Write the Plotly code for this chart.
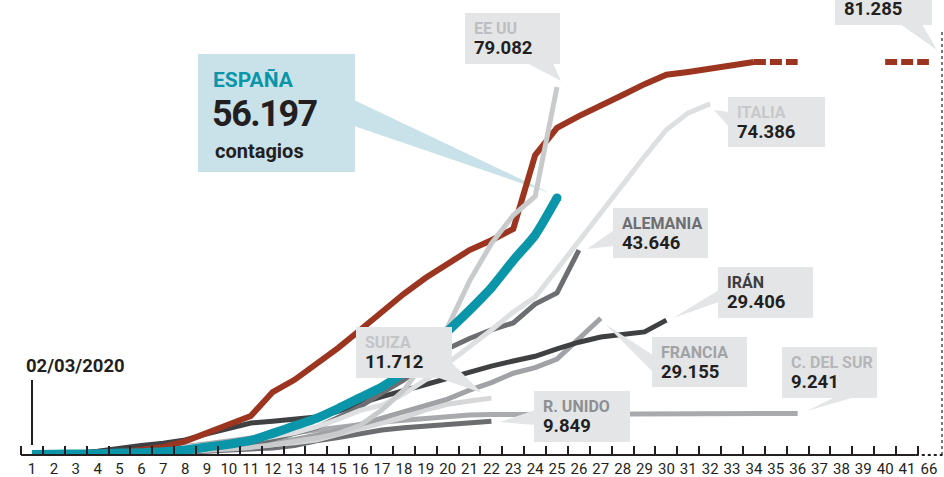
import plotly.graph_objects as go

# ---------------- data (thousands of cases) ----------------
DAY_LABELS = ["1", "2", "3", "4", "5", "6", "7", "8", "9", "10", "11", "12", "13", "14",
              "15", "16", "17", "18", "19", "20", "21", "22", "23", "24", "25", "26", "27",
              "28", "29", "30", "31", "32", "33", "34", "35", "36", "37", "38", "39", "40",
              "41", "66"]

china = [0.1, 0.2, 0.3, 0.4, 0.6, 1.1, 1.7, 2.9, 4.6, 6.5, 8.3, 13.4, 16.0, 19.4, 22.8,
         26.6, 30.6, 34.3, 37.7, 40.6, 43.6, 45.7, 48.1, 63.8, 69.6, 72.1, 74.5, 76.6,
         78.9, 80.9, 81.5, 82.3, 83.1, 83.6]
china_tail_a_days = ["34", "35", "36"]
china_tail_a = [83.6, 83.6, 83.6]
china_tail_b_days = ["40", "41", "66"]
china_tail_b = [83.6, 83.6, 83.6]

spain = [0.12, 0.17, 0.22, 0.26, 0.40, 0.5, 0.67, 1.07, 1.7, 2.3, 3.1, 4.6, 6.2, 7.8,
         9.9, 12.2, 14.5, 17.6, 21.8, 26.3, 30.8, 35.6, 41.4, 46.8, 54.7]
usa = [0.1, 0.12, 0.16, 0.22, 0.32, 0.44, 0.54, 0.7, 1.0, 1.3, 1.6, 2.2, 2.8, 3.6, 4.6,
       6.3, 9.6, 13.8, 20.2, 27.2, 37.0, 45.0, 51.0, 55.0, 78.3]
italy = [0.16, 0.23, 0.32, 0.45, 0.66, 0.89, 1.13, 1.7, 2.0, 2.5, 3.1, 3.9, 4.7, 6.0,
         7.6, 9.5, 10.6, 13.0, 16.0, 19.5, 23.0, 26.6, 30.4, 33.6, 39.5, 45.5, 51.7,
         57.4, 63.5, 69.2, 72.8, 74.7]
germany = [0.16, 0.2, 0.26, 0.48, 0.67, 0.8, 1.0, 1.2, 1.5, 1.9, 2.1, 3.4, 4.6, 5.8,
           8.0, 10.3, 13.2, 16.0, 19.5, 22.6, 24.8, 26.6, 28.1, 32.1, 34.5, 43.6]
iran = [0.14, 0.25, 0.4, 0.8, 1.5, 2.0, 2.5, 3.2, 4.5, 5.7, 6.8, 7.2, 7.6, 8.1, 9.3,
        11.0, 12.4, 13.6, 15.0, 16.3, 17.7, 18.9, 20.0, 21.0, 22.6, 24.0, 25.1, 25.6,
        26.2, 28.7]
france = [0.13, 0.19, 0.21, 0.28, 0.4, 0.6, 0.7, 0.95, 1.2, 1.6, 2.1, 2.6, 3.3, 4.2,
          5.2, 6.5, 7.8, 9.2, 10.6, 11.9, 13.8, 15.4, 17.4, 18.6, 20.4, 24.7, 29.1]
korea = [0.1, 0.2, 0.4, 0.6, 0.8, 1.0, 1.3, 1.8, 2.3, 3.0, 3.6, 4.2, 4.8, 5.3, 5.9,
         6.6, 7.0, 7.4, 7.8, 8.2, 8.5, 8.6, 8.6, 8.65, 8.65, 8.7, 8.7, 8.7, 8.75, 8.75,
         8.75, 8.8, 8.8, 8.8, 8.85, 8.85]
uk = [0.05, 0.08, 0.1, 0.15, 0.2, 0.3, 0.45, 0.6, 0.8, 1.0, 1.3, 1.5, 2.0, 3.0, 3.7,
      4.6, 5.3, 5.8, 6.2, 6.6, 7.0, 7.2]
swiss = [0.09, 0.2, 0.27, 0.34, 0.37, 0.5, 0.65, 0.86, 1.1, 1.4, 1.9, 2.2, 2.6, 3.2,
         4.4, 5.6, 6.8, 8.0, 9.6, 10.8, 11.5, 12.1]

# ---------------- figure ----------------
W, H = 944, 477
ML, MB = 21, 22
PW, PH = W - ML, H - MB          # plot area 923 x 455


def px(x):   # page pixel -> paper x
    return (x - ML) / PW


def py(y):   # page pixel -> paper y
    return (PH - y) / PH


def pos(days):
    return [DAY_LABELS.index(d) for d in days]


def first_days(values):
    return DAY_LABELS[:len(values)]


fig = go.Figure()

series = [
    ("C. del Sur", korea, "#a8aaad", 5),
    ("R. Unido", uk, "#6c6d70", 5),
    ("Suiza", swiss, "#d6d7d9", 5),
    ("Francia", france, "#a0a2a5", 5),
    ("Irán", iran, "#3f4042", 5),
    ("Alemania", germany, "#6d6e71", 5),
    ("Italia", italy, "#dedfe1", 5),
]
for name, vals, col, w in series:
    fig.add_trace(go.Scatter(x=pos(first_days(vals)), y=vals, mode="lines",
                             line=dict(color=col, width=w), name=name,
                             hoverinfo="skip"))

fig.add_trace(go.Scatter(x=pos(first_days(china)), y=china, mode="lines",
                         line=dict(color="#9b3520", width=6), hoverinfo="skip"))
fig.add_trace(go.Scatter(x=pos(china_tail_a_days), y=china_tail_a, mode="lines",
                         line=dict(color="#9b3520", width=6, dash="12px,4px"),
                         hoverinfo="skip"))
fig.add_trace(go.Scatter(x=pos(china_tail_b_days), y=china_tail_b, mode="lines",
                         line=dict(color="#9b3520", width=6, dash="12px,4px"),
                         hoverinfo="skip"))
fig.add_trace(go.Scatter(x=pos(first_days(usa)), y=usa, mode="lines",
                         line=dict(color="#c9cacc", width=5), hoverinfo="skip"))
fig.add_trace(go.Scatter(x=pos(first_days(spain)), y=spain, mode="lines",
                         line=dict(color="#0a95a8", width=9, shape="spline",
                                   smoothing=0.6),
                         hoverinfo="skip"))
fig.add_trace(go.Scatter(x=pos(first_days(spain))[-1:], y=spain[-1:], mode="markers",
                         marker=dict(color="#0a95a8", size=9), hoverinfo="skip"))

shapes = []
annotations = []

BOX = "#e4e5e6"
FONT = "Roboto, Open Sans, sans-serif"


def poly(points, color, layer="above"):
    d = "M " + " L ".join(f"{px(x):.5f},{py(y):.5f}" for x, y in points) + " Z"
    shapes.append(dict(type="path", path=d, xref="paper", yref="paper",
                       fillcolor=color, line=dict(width=0), layer=layer))


def rect(x0, y0, x1, y1, color, layer="above"):
    shapes.append(dict(type="rect", xref="paper", yref="paper",
                       x0=px(x0), x1=px(x1), y0=py(y1), y1=py(y0),
                       fillcolor=color, line=dict(width=0), layer=layer))


def text(x, y, s, size, color, family=FONT, weight="bold"):
    annotations.append(dict(x=px(x), y=py(y), xref="paper", yref="paper",
                            text=s, showarrow=False, xanchor="left", yanchor="middle",
                            font=dict(family=family, size=size, color=color,
                                      weight=weight)))


callouts = [
    # name, value, name colour, box (x0,y0,x1,y1), tail polygon
    ("EE UU", "79.082", "#bdbec1", (465, 13, 560, 64), [(527, 63), (553, 63), (561, 81)]),
    ("ITALIA", "74.386", "#c7c8ca", (728, 97, 825, 147), [(729, 112), (729, 127), (714, 110)]),
    ("ALEMANIA", "43.646", "#6d6e71", (613, 208, 708, 258), [(614, 230), (614, 246), (587, 249)]),
    ("IRÁN", "29.406", "#3d3e40", (718, 267, 813, 318), [(719, 290), (719, 302), (673, 318)]),
    ("FRANCIA", "29.155", "#a0a2a5", (652, 337, 747, 387), [(653, 355), (653, 372), (605, 324)]),
    ("C. DEL SUR", "9.241", "#b5b6b9", (782, 347, 877, 398), [(835, 397), (855, 397), (807, 411)]),
    ("R. UNIDO", "9.849", "#8d8f92", (534, 391, 630, 442), [(535, 410), (535, 425), (500, 422)]),
    ("SUIZA", "11.712", "#c3c4c6", (356, 327, 452, 378), [(436, 377), (451, 362), (482, 393)]),
    (None, "81.285", None, (835, -26, 932, 25), [(900, 24), (922, 24), (937, 50)]),
]
for nm, val, col, (x0, y0, x1, y1), tail in callouts:
    poly(tail, BOX)
    rect(x0, y0, x1, y1, BOX)
    if nm:
        text(x0 + 7, y0 + 15, nm, 16, col)
    text(x0 + 7, y0 + 35, val, 18.5, "#231f20")

# Spain callout
poly([(354, 100), (354, 126), (550, 193)], "#c9e2e9", layer="below")
rect(198, 54, 355, 172, "#c9e2e9")
text(211, 80, "ESPAÑA", 21, "#0a95a8")
text(210, 114, '<span style="letter-spacing:-1.5px">56.197</span>', 36, "#231f20",
     family="Roboto, DejaVu Sans Condensed, sans-serif")
text(213, 151, "contagios", 20, "#231f20")

# start date marker
text(24, 366, "02/03/2020", 18.5, "#231f20")
shapes.append(dict(type="line", xref="x", yref="paper", x0=0, x1=0,
                   y0=py(445), y1=py(380), line=dict(color="#231f20", width=2)))

# axis line: solid, then dotted across the break
shapes.append(dict(type="line", xref="x", yref="paper", x0=-0.5, x1=40.4, y0=0, y1=0,
                   line=dict(color="#231f20", width=2)))
shapes.append(dict(type="line", xref="x", yref="paper", x0=40.4, x1=41.62, y0=0, y1=0,
                   line=dict(color="#231f20", width=2, dash="dot")))
# vertical dotted line at the last day
shapes.append(dict(type="line", xref="paper", yref="paper", x0=px(942), x1=px(942),
                   y0=0, y1=py(30), line=dict(color="#231f20", width=1.2, dash="dot")))

fig.update_layout(
    width=W, height=H,
    margin=dict(l=ML, r=0, t=0, b=MB, autoexpand=False),
    paper_bgcolor="white", plot_bgcolor="white",
    showlegend=False,
    shapes=shapes, annotations=annotations,
    xaxis=dict(range=[-0.503, 41.69], tickmode="array", automargin=False,
               tickvals=list(range(len(DAY_LABELS))), ticktext=DAY_LABELS,
               ticks="", showgrid=False, zeroline=False, showline=False,
               tickfont=dict(family=FONT, size=15, color="#231f20"),
               ticklabelstandoff=3,
               minor=dict(tickmode="array",
                          tickvals=[i - 0.5 for i in range(len(DAY_LABELS))],
                          ticks="inside", ticklen=9, tickwidth=1.5,
                          tickcolor="#231f20", showgrid=False),
               fixedrange=True),
    yaxis=dict(range=[0, PH / 4.7], visible=False, fixedrange=True, automargin=False),
)

fig.write_html("out.html", config={"displayModeBar": False},
               post_script="document.body.style.margin='0';"
                           "document.body.style.overflow='hidden';")
